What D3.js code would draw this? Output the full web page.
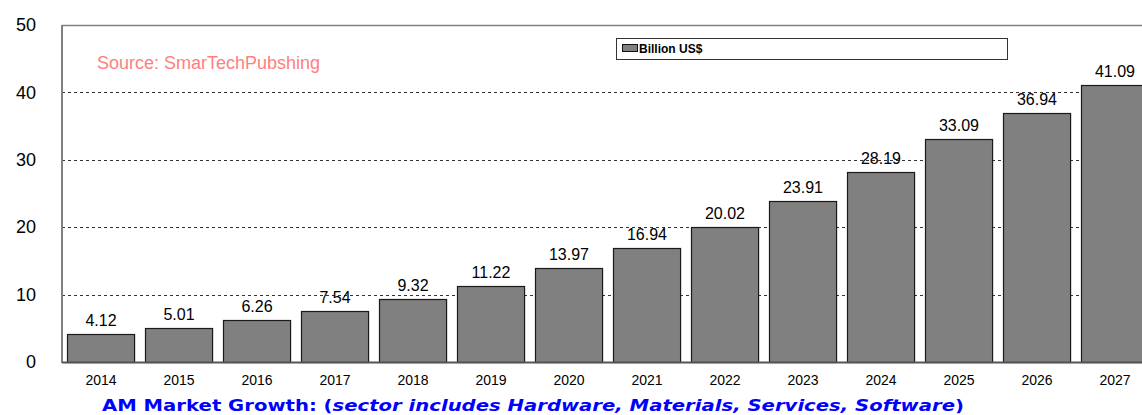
<!DOCTYPE html>
<html lang="en">
<head>
  <meta charset="UTF-8">
  <title>AM Market Growth</title>
  <script src="https://d3js.org/d3.v7.min.js"></script>
  <style>
    body { margin: 0; background: #fff; }
    svg { display: block; font-family: Arial, "Liberation Sans", sans-serif; }
  </style>
</head>
<body>
  <svg id="chart"></svg>
  <script>
    // chart data
    const years = ["2014", "2015", "2016", "2017", "2018", "2019", "2020",
                   "2021", "2022", "2023", "2024", "2025", "2026", "2027"];
    const billions = [4.12, 5.01, 6.26, 7.54, 9.32, 11.22, 13.97,
                      16.94, 20.02, 23.91, 28.19, 33.09, 36.94, 41.09];
    const yTicks = [0, 10, 20, 30, 40, 50];

    const width = 1142, height = 415;
    const plotLeft = 62, plotTop = 25, plotBottom = 362;
    const plotRight = plotLeft + 78 * years.length; // plot runs past the window edge

    const svg = d3.select("#chart")
      .attr("width", width)
      .attr("height", height);

    const x = d3.scaleBand()
      .domain(years)
      .range([plotLeft, plotRight])
      .paddingInner(0.14)
      .paddingOuter(0.07);

    const y = d3.scaleLinear()
      .domain([0, 50])
      .range([plotBottom, plotTop]);

    // dashed gridlines
    svg.append("g")
      .selectAll("line")
      .data(yTicks.filter(d => d > 0 && d < 50))
      .join("line")
      .attr("x1", plotLeft)
      .attr("x2", plotRight)
      .attr("y1", d => Math.round(y(d)) + 0.5)
      .attr("y2", d => Math.round(y(d)) + 0.5)
      .attr("stroke", "#333")
      .attr("stroke-dasharray", "3,3");

    // top frame line
    svg.append("line")
      .attr("x1", plotLeft).attr("x2", plotRight)
      .attr("y1", plotTop + 0.5).attr("y2", plotTop + 0.5)
      .attr("stroke", "#808080")
      .attr("stroke-width", 1.5);

    // y axis labels
    const yAxis = svg.append("g")
      .attr("transform", `translate(${plotLeft},0)`)
      .call(d3.axisLeft(y).tickValues(yTicks).tickSize(0).tickPadding(26));
    yAxis.select(".domain").remove();
    yAxis.selectAll("text")
      .attr("font-family", "Arial, 'Liberation Sans', sans-serif")
      .attr("font-size", 18)
      .attr("fill", "#000");

    // bars
    svg.append("g")
      .selectAll("rect")
      .data(billions)
      .join("rect")
      .attr("x", (d, i) => Math.round(x(years[i])) + 0.5)
      .attr("y", d => Math.round(y(d)) + 0.5)
      .attr("width", x.bandwidth())
      .attr("height", d => Math.round(plotBottom - y(d)))
      .attr("fill", "#808080")
      .attr("stroke", "#1a1a1a")
      .attr("stroke-width", 1.2);

    // value labels
    svg.append("g")
      .selectAll("text")
      .data(billions)
      .join("text")
      .attr("x", (d, i) => x(years[i]) + x.bandwidth() / 2)
      .attr("y", d => y(d) - 8)
      .attr("text-anchor", "middle")
      .attr("font-size", 16)
      .attr("fill", "#000")
      .text(d => d.toFixed(2));

    // left axis and baseline
    svg.append("line")
      .attr("x1", plotLeft).attr("x2", plotLeft)
      .attr("y1", plotTop).attr("y2", plotBottom + 1)
      .attr("stroke", "#808080")
      .attr("stroke-width", 2);
    svg.append("line")
      .attr("x1", plotLeft).attr("x2", plotRight)
      .attr("y1", plotBottom + 0.5).attr("y2", plotBottom + 0.5)
      .attr("stroke", "#555")
      .attr("stroke-width", 2);

    // x axis labels
    const xAxis = svg.append("g")
      .attr("transform", `translate(0,${plotBottom})`)
      .call(d3.axisBottom(x).tickSize(0).tickPadding(13));
    xAxis.select(".domain").remove();
    xAxis.selectAll("text")
      .attr("font-family", "Arial, 'Liberation Sans', sans-serif")
      .attr("font-size", 14)
      .attr("fill", "#000");

    // source note
    svg.append("text")
      .attr("x", 97)
      .attr("y", 69)
      .attr("font-size", 18)
      .attr("fill", "#ff8080")
      .text("Source: SmarTechPubshing");

    // legend
    const legend = svg.append("g");
    legend.append("rect")
      .attr("x", 616.5).attr("y", 38.5)
      .attr("width", 391).attr("height", 21)
      .attr("fill", "#fff")
      .attr("stroke", "#333");
    legend.append("rect")
      .attr("x", 622.5).attr("y", 44.5)
      .attr("width", 15).attr("height", 7)
      .attr("fill", "#808080")
      .attr("stroke", "#111");
    legend.append("text")
      .attr("x", 639)
      .attr("y", 53)
      .attr("font-size", 12)
      .attr("font-weight", "bold")
      .attr("fill", "#000")
      .text("Billion US$");

    // title
    const title = svg.append("text")
      .attr("x", 102)
      .attr("y", 411)
      .attr("font-family", "'DejaVu Sans', Verdana, sans-serif")
      .attr("font-size", 16.5)
      .attr("font-weight", "bold")
      .attr("fill", "#0000ff")
      .attr("textLength", 862)
      .attr("lengthAdjust", "spacingAndGlyphs");
    title.append("tspan").text("AM Market Growth: (");
    title.append("tspan").attr("font-style", "italic")
      .text("sector includes Hardware, Materials, Services, Software");
    title.append("tspan").text(")");
  </script>
</body>
</html>
